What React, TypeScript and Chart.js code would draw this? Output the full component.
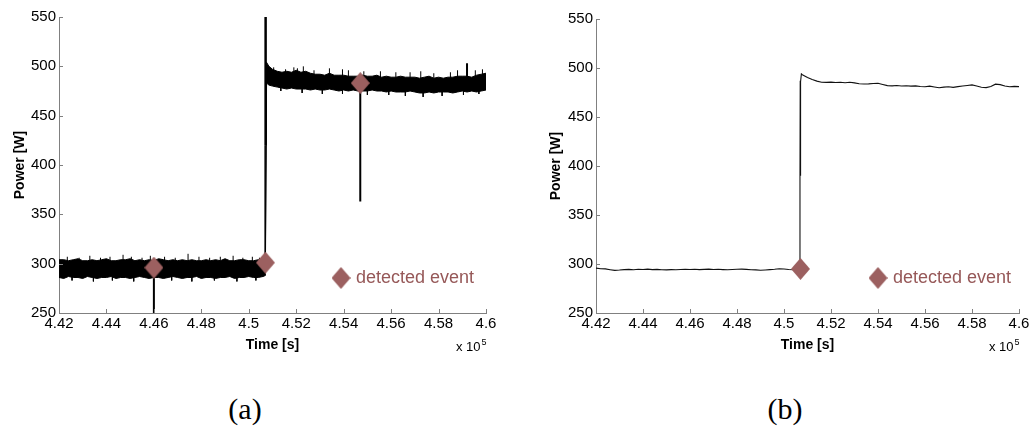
import React, { useEffect, useRef } from "react";
import { Chart, registerables } from "chart.js";
Chart.register(...registerables);

// ---------- axis ticks ----------
const xTickValues = [4.42, 4.44, 4.46, 4.48, 4.5, 4.52, 4.54, 4.56, 4.58, 4.6];
const xTickLabels = ["4.42", "4.44", "4.46", "4.48", "4.5", "4.52", "4.54", "4.56", "4.58", "4.6"];
const yTickValues = [250, 300, 350, 400, 450, 500, 550];
const yTickLabels = ["250", "300", "350", "400", "450", "500", "550"];

// ---------- (a) raw signal: noise band envelope ----------
const bandTimeA = [
  4.420, 4.422, 4.424, 4.426, 4.428, 4.430, 4.432, 4.434, 4.436, 4.438,
  4.440, 4.442, 4.444, 4.446, 4.448, 4.450, 4.452, 4.454, 4.456, 4.458,
  4.460, 4.462, 4.464, 4.466, 4.468, 4.470, 4.472, 4.474, 4.476, 4.478,
  4.480, 4.482, 4.484, 4.486, 4.488, 4.490, 4.492, 4.494, 4.496, 4.498,
  4.500, 4.502, 4.504, 4.506, 4.5070,
  4.5075, 4.5085,
  4.510, 4.512, 4.514, 4.516, 4.518, 4.520, 4.522, 4.524, 4.526, 4.528,
  4.530, 4.532, 4.534, 4.536, 4.538, 4.540, 4.542, 4.544, 4.546, 4.548,
  4.550, 4.552, 4.554, 4.556, 4.558, 4.560, 4.562, 4.564, 4.566, 4.568,
  4.570, 4.572, 4.574, 4.576, 4.578, 4.580, 4.582, 4.584, 4.586, 4.588,
  4.590, 4.592, 4.594, 4.596, 4.598, 4.600,
];
const bandUpperA = [
  304, 304, 303, 304, 305, 303, 303, 304, 303, 304,
  305, 303, 303, 304, 304, 305, 303, 304, 303, 304,
  303, 305, 304, 303, 304, 303, 304, 303, 304, 303,
  303, 304, 303, 304, 303, 305, 303, 303, 304, 304,
  303, 303, 304, 304, 304,
  504, 500,
  497, 495, 494, 495, 494, 496, 494, 495, 493, 492,
  492, 491, 493, 491, 491, 491, 490, 490, 490, 491,
  490, 490, 491, 489, 490, 489, 489, 490, 489, 489,
  489, 488, 489, 490, 488, 489, 488, 489, 489, 490,
  490, 490, 489, 491, 492, 493,
];
const bandLowerA = [
  286, 285, 287, 286, 286, 285, 287, 286, 285, 286,
  286, 287, 285, 286, 286, 285, 286, 287, 286, 285,
  286, 286, 285, 286, 287, 286, 285, 286, 286, 287,
  285, 286, 286, 285, 286, 286, 287, 285, 286, 286,
  287, 286, 286, 287, 288,
  483, 481,
  480, 479, 478, 477, 478, 477, 477, 477, 476, 477,
  476, 476, 477, 476, 475, 476, 475, 476, 475, 475,
  475, 476, 475, 475, 474, 475, 474, 474, 474, 475,
  474, 473, 473, 474, 473, 474, 474, 474, 473, 474,
  475, 474, 475, 474, 475, 476,
];

// (a) short noise hairs sticking out of the band: time, base, tip
const hairTimeA = [
  4.4235, 4.4285, 4.4330, 4.4375, 4.4415, 4.4470, 4.4505, 4.4550, 4.4585, 4.4645,
  4.4690, 4.4744, 4.4790, 4.4835, 4.4880, 4.4934, 4.4975, 4.5015, 4.5045,
  4.4255, 4.4345, 4.4425, 4.4515, 4.4675, 4.4760, 4.4855, 4.4950, 4.5030,
  4.5105, 4.5155, 4.5190, 4.5205, 4.5230, 4.5275, 4.5340, 4.5395, 4.5420, 4.5485,
  4.5555, 4.5620, 4.5680, 4.5725, 4.5780, 4.5850, 4.5880, 4.5955, 4.5985,
  4.5135, 4.5225, 4.5310, 4.5395, 4.5500, 4.5590, 4.5660, 4.5735, 4.5815, 4.5905, 4.5970,
];
const hairBaseA = [
  300, 300, 300, 300, 300, 300, 300, 300, 300, 300,
  300, 300, 300, 300, 300, 300, 300, 300, 300,
  290, 290, 290, 290, 290, 290, 290, 290, 290,
  486, 486, 486, 486, 486, 486, 486, 486, 486, 484,
  484, 484, 484, 484, 484, 484, 484, 484, 484,
  480, 480, 480, 480, 480, 480, 480, 480, 480, 480, 480,
];
const hairTipA = [
  307, 306, 308, 306, 307, 309, 307, 306, 308, 307,
  306, 310, 307, 306, 307, 308, 306, 307, 306,
  283, 282, 283, 282, 283, 282, 283, 282, 283,
  499, 497, 499, 498, 500, 496, 498, 497, 496, 495,
  495, 494, 494, 495, 493, 494, 496, 496, 497,
  475, 473, 472, 472, 471, 471, 470, 469, 470, 471, 472,
];

// (a) isolated spikes: time, from, to
const spikeTimeA = [4.4600, 4.5470, 4.5920];
const spikeFromA = [296, 483, 488];
const spikeToA = [250, 363, 503];
// (a) step edge at the switch-on event
const stepTimeA = [4.5069, 4.5071];
const stepLowA = [300, 420];
const stepHighA = [420, 550];

// (a) detected events
const eventTimeA = [4.460, 4.507, 4.547];
const eventPowerA = [296, 301, 483];

// ---------- (b) filtered signal ----------
const timeB = [
  4.420, 4.422, 4.424, 4.426, 4.428, 4.430, 4.432, 4.434, 4.436, 4.438,
  4.440, 4.442, 4.444, 4.446, 4.448, 4.450, 4.452, 4.454, 4.456, 4.458,
  4.460, 4.462, 4.464, 4.466, 4.468, 4.470, 4.472, 4.474, 4.476, 4.478,
  4.480, 4.482, 4.484, 4.486, 4.488, 4.490, 4.492, 4.494, 4.496, 4.498,
  4.500, 4.502, 4.504, 4.506,
  4.5066, 4.5068, 4.5069, 4.5070, 4.5071, 4.5074, 4.508, 4.510, 4.512, 4.514, 4.516,
  4.518, 4.520, 4.522, 4.524, 4.526, 4.528, 4.530, 4.532, 4.534, 4.536,
  4.538, 4.540, 4.542, 4.544, 4.546, 4.548, 4.550, 4.552, 4.554, 4.556,
  4.558, 4.560, 4.562, 4.564, 4.566, 4.568, 4.570, 4.572, 4.574, 4.576,
  4.578, 4.580, 4.582, 4.584, 4.586, 4.588, 4.590, 4.592, 4.594, 4.596,
  4.598, 4.600,
];
const powerB = [
  295.8, 295.2, 295.0, 294.2, 293.5, 293.8, 294.3, 294.5, 294.2, 294.6,
  294.4, 294.8, 294.3, 294.5, 294.2, 294.0, 294.3, 294.1, 294.4, 294.7,
  294.4, 294.6, 294.3, 294.5, 294.8, 294.4, 294.6, 294.3, 294.1, 294.4,
  294.6, 294.8, 294.5, 294.2, 294.0, 293.6, 293.9, 294.3, 294.6, 295.2,
  294.9, 294.4, 294.2, 294.5,
  294.6, 392, 487, 390, 486, 494, 492.8, 490.2, 488.2, 486.6, 485.5,
  485.3, 485.6, 485.2, 485.5, 485.0, 485.4, 484.8, 484.0, 483.6, 483.8,
  484.2, 484.5, 483.2, 482.0, 481.8, 482.2, 481.7, 481.9, 481.5, 481.8,
  481.2, 480.8, 481.5, 480.6, 479.8, 480.5, 480.9, 480.2, 481.0, 481.6,
  482.2, 482.8, 481.6, 480.4, 480.0, 481.2, 483.5, 483.0, 481.6, 480.8,
  481.2, 481.0,
];
const eventTimeB = [4.507];
const eventPowerB = [295];

// ---------- styles ----------
const AXIS_COLOR = "#808080";
const EVENT_COLOR = "rgb(156,96,96)";
const EVENT_TEXT = "rgb(150,88,88)";
const SANS = "'Liberation Sans', Arial, sans-serif";

function makeDiamond(): HTMLCanvasElement {
  const c = document.createElement("canvas");
  const w = 19, h = 22;
  c.width = w; c.height = h;
  const g = c.getContext("2d")!;
  g.fillStyle = EVENT_COLOR;
  g.beginPath();
  g.moveTo(w / 2, 0);
  g.lineTo(w, h / 2);
  g.lineTo(w / 2, h);
  g.lineTo(0, h / 2);
  g.closePath();
  g.fill();
  return c;
}

const decorPlugin = {
  id: "decor",
  afterDraw(chart: any, _args: any, opts: any) {
    const { ctx, chartArea, scales } = chart;
    const xs = scales.x, ys = scales.y;
    ctx.save();
    ctx.strokeStyle = AXIS_COLOR;
    ctx.lineWidth = 1;
    ctx.beginPath();
    for (const v of xTickValues) {
      const px = Math.round(xs.getPixelForValue(v)) + 0.5;
      ctx.moveTo(px, chartArea.bottom);
      ctx.lineTo(px, chartArea.bottom - 4);
    }
    for (const v of yTickValues) {
      const py = Math.round(ys.getPixelForValue(v)) + 0.5;
      ctx.moveTo(chartArea.left, py);
      ctx.lineTo(chartArea.left + 4, py);
    }
    ctx.stroke();

    // legend
    const d = opts.diamond as HTMLCanvasElement;
    const lx = chartArea.left + 282;
    const ly = chartArea.bottom - 35;
    if (d) ctx.drawImage(d, lx - d.width / 2, ly - d.height / 2);
    ctx.fillStyle = EVENT_TEXT;
    ctx.font = `18px ${SANS}`;
    ctx.textBaseline = "middle";
    ctx.textAlign = "left";
    ctx.fillText("detected event", lx + 15, ly);

    // x 10^5 multiplier
    ctx.fillStyle = "#000";
    ctx.font = `13px ${SANS}`;
    ctx.textBaseline = "alphabetic";
    const bx = chartArea.right - 30;
    const by = chartArea.bottom + 38;
    ctx.fillText("x 10", bx, by);
    const w = ctx.measureText("x 10").width;
    ctx.font = `9px ${SANS}`;
    ctx.fillText("5", bx + w + 1, by - 6);
    ctx.restore();
  },
};

function buildOptions(yTitlePad: number, padRight: number, padTop: number, yWidth: number, xHeight: number, diamond: HTMLCanvasElement) {
  const tickFont = { family: SANS, size: 15 };
  const titleFont = { family: SANS, size: 14, weight: "bold" as const };
  return {
    animation: false as const,
    responsive: true,
    maintainAspectRatio: false,
    layout: { padding: { top: padTop, right: padRight, left: 0, bottom: 0 } },
    plugins: {
      legend: { display: false },
      tooltip: { enabled: false },
      decor: { diamond },
    },
    elements: { point: { radius: 0 } },
    scales: {
      x: {
        type: "linear" as const,
        min: 4.42,
        max: 4.6,
        grid: { display: false, drawTicks: false },
        border: { display: true, color: AXIS_COLOR, width: 1 },
        afterBuildTicks: (scale: any) => {
          scale.ticks = xTickValues.map((v) => ({ value: v }));
        },
        afterFit: (scale: any) => {
          scale.height = xHeight;
        },
        ticks: {
          autoSkip: false,
          maxRotation: 0,
          padding: 2,
          color: "#000",
          font: tickFont,
          callback: (_v: any, i: number) => xTickLabels[i],
        },
        title: {
          display: true,
          text: "Time [s]",
          color: "#000",
          font: titleFont,
          padding: { top: 0, bottom: 26 },
        },
      },
      y: {
        type: "linear" as const,
        min: 250,
        max: 550,
        grid: { display: false, drawTicks: false },
        border: { display: true, color: AXIS_COLOR, width: 1 },
        afterBuildTicks: (scale: any) => {
          scale.ticks = yTickValues.map((v) => ({ value: v }));
        },
        afterFit: (scale: any) => {
          scale.width = yWidth;
        },
        ticks: {
          autoSkip: false,
          padding: 3,
          color: "#000",
          font: tickFont,
          callback: (_v: any, i: number) => yTickLabels[i],
        },
        title: {
          display: true,
          text: "Power [W]",
          color: "#000",
          font: titleFont,
          padding: { top: yTitlePad, bottom: 0 },
        },
      },
    },
  };
}

function xy(ts: number[], vs: number[]) {
  return ts.map((t, i) => ({ x: t, y: vs[i] }));
}

function segments(ts: number[], from: number[], to: number[]) {
  const out: any[] = [];
  ts.forEach((t, i) => {
    out.push({ x: t, y: from[i] }, { x: t, y: to[i] }, { x: t, y: null });
  });
  return out;
}

function ChartA() {
  const ref = useRef<HTMLCanvasElement>(null);
  useEffect(() => {
    const diamond = makeDiamond();
    const datasets: any[] = [
      {
        data: xy(eventTimeA, eventPowerA),
        showLine: false,
        pointStyle: diamond,
        pointRadius: 10,
        order: -1,
      },
      {
        data: xy(bandTimeA, bandUpperA),
        borderColor: "#000",
        borderWidth: 1,
        backgroundColor: "#000",
        fill: "+1",
        tension: 0,
      },
      {
        data: xy(bandTimeA, bandLowerA),
        borderColor: "#000",
        borderWidth: 1,
        fill: false,
        tension: 0,
      },
      {
        data: segments(hairTimeA, hairBaseA, hairTipA),
        borderColor: "#000",
        borderWidth: 1,
        fill: false,
        spanGaps: false,
      },
      {
        data: segments(spikeTimeA, spikeFromA, spikeToA),
        borderColor: "#000",
        borderWidth: 2,
        fill: false,
        spanGaps: false,
      },
    ];
    stepTimeA.forEach((t, i) => {
      datasets.push({
        data: [{ x: t, y: stepLowA[i] }, { x: t, y: stepHighA[i] }],
        borderColor: "#000",
        borderWidth: i === 0 ? 1.5 : 2.5,
        fill: false,
      });
    });
    const chart = new Chart(ref.current!, {
      type: "line",
      data: { datasets },
      options: buildOptions(11.6, 30, 17, 59, 67, diamond) as any,
      plugins: [decorPlugin],
    });
    return () => chart.destroy();
  }, []);
  return <canvas ref={ref} />;
}

function ChartB() {
  const ref = useRef<HTMLCanvasElement>(null);
  useEffect(() => {
    const diamond = makeDiamond();
    const datasets: any[] = [
      {
        data: xy(eventTimeB, eventPowerB),
        showLine: false,
        pointStyle: diamond,
        pointRadius: 10,
        order: -1,
      },
      {
        data: xy(timeB, powerB),
        borderColor: "#111",
        borderWidth: 1.1,
        fill: false,
        tension: 0,
      },
    ];
    const chart = new Chart(ref.current!, {
      type: "line",
      data: { datasets },
      options: buildOptions(31.6, 13, 19, 80, 67, diamond) as any,
      plugins: [decorPlugin],
    });
    return () => chart.destroy();
  }, []);
  return <canvas ref={ref} />;
}

export default function App() {
  useEffect(() => {
    document.body.style.margin = "0";
    document.body.style.background = "#fff";
  }, []);
  const labelStyle: React.CSSProperties = {
    position: "absolute",
    top: 392,
    fontFamily: "'Liberation Serif', 'DejaVu Serif', serif",
    fontSize: 30,
    lineHeight: "34px",
    color: "#000",
    transform: "translateX(-50%)",
  };
  return (
    <div style={{ position: "relative", width: 1032, height: 433, background: "#fff", overflow: "hidden" }}>
      <div style={{ position: "absolute", left: 0, top: 0, width: 516, height: 380 }}>
        <ChartA />
      </div>
      <div style={{ position: "absolute", left: 516, top: 0, width: 516, height: 380 }}>
        <ChartB />
      </div>
      <div style={{ ...labelStyle, left: 245 }}>(a)</div>
      <div style={{ ...labelStyle, left: 785 }}>(b)</div>
    </div>
  );
}
